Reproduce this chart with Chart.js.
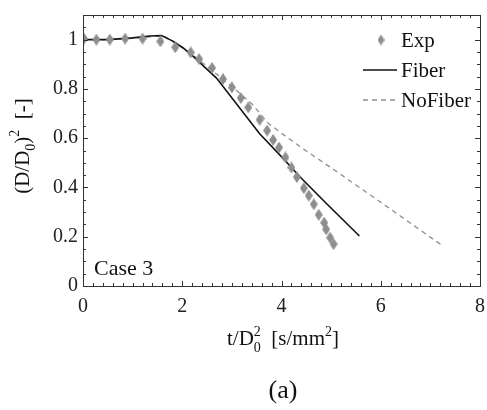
<!DOCTYPE html>
<html>
<head>
<meta charset="utf-8">
<script src="https://cdn.jsdelivr.net/npm/chart.js@4.4.1/dist/chart.umd.min.js"></script>
<style>
html,body{margin:0;padding:0;background:#fff;}
#wrap{width:487px;height:410px;position:relative;}
</style>
</head>
<body>
<div id="wrap"><canvas id="c" width="487" height="410"></canvas></div>
<script>
const expX = [0.02,0.27,0.54,0.85,1.2,1.56,1.86,2.17,2.34,2.6,2.82,3.0,3.18,3.33,3.56,3.71,3.83,3.95,4.08,4.2,4.31,4.45,4.55,4.65,4.75,4.86,4.9,4.98,5.05];
const expY = [1.004,1.0,1.0,1.004,1.004,0.993,0.969,0.948,0.921,0.885,0.84,0.806,0.763,0.725,0.675,0.631,0.593,0.562,0.522,0.481,0.442,0.397,0.367,0.332,0.289,0.257,0.23,0.196,0.17];
const fiberX = [0,0.5,1.0,1.35,1.58,1.82,2.02,2.22,2.69,3.56,4.06,4.25,4.43,4.9,5.57];
const fiberY = [1.0,1.0,1.007,1.015,1.017,0.993,0.966,0.932,0.844,0.618,0.512,0.47,0.431,0.336,0.203];
const noFiberX = [0,0.5,1.0,1.5,1.65,1.9,2.2,2.6,3.0,3.4,3.73,4.0,4.5,5.0,6.0,7.22];
const noFiberY = [1.0,1.0,1.005,1.014,1.012,0.98,0.94,0.875,0.81,0.74,0.661,0.62,0.548,0.48,0.34,0.167];
const xTicks = [0,2,4,6,8];
const yTicks = [0,0.2,0.4,0.6,0.8,1];
const legendLabels = ["Exp","Fiber","NoFiber"];
const caseLabel = "Case 3";
const panelLabel = "(a)";

const SERIF = "'Liberation Serif', 'DejaVu Serif', serif";
const GRAY = '#8e8e8e';

function diamond(w,h,color){
  const c = document.createElement('canvas');
  c.width = w; c.height = h;
  const g = c.getContext('2d');
  g.fillStyle = color;
  g.beginPath();
  g.moveTo(w/2,0); g.lineTo(w,h/2); g.lineTo(w/2,h); g.lineTo(0,h/2); g.closePath();
  g.fill();
  return c;
}
const marker = diamond(8,12,GRAY);
const legendMarker = diamond(7,11,GRAY);

const pts = (xs,ys)=>xs.map((x,i)=>({x:x,y:ys[i]}));

const decorPlugin = {
  id:'decor',
  afterDraw(chart){
    const ctx = chart.ctx;
    const a = chart.chartArea;
    const xs = chart.scales.x, ys = chart.scales.y;
    ctx.save();
    ctx.strokeStyle = '#333';
    ctx.lineWidth = 1;
    ctx.strokeRect(Math.round(a.left)+0.5, Math.round(a.top)+0.5, Math.round(a.right-a.left), Math.round(a.bottom-a.top));
    ctx.beginPath();
    for(let v=0; v<=8.0001; v+=0.2){
      const px = Math.round(xs.getPixelForValue(v))+0.5;
      const major = Math.abs(v/2 - Math.round(v/2))<1e-6;
      const L = major?5:3;
      ctx.moveTo(px,a.bottom); ctx.lineTo(px,a.bottom-L);
      ctx.moveTo(px,a.top); ctx.lineTo(px,a.top+L);
    }
    for(let v=0; v<=1.1001; v+=0.05){
      const py = Math.round(ys.getPixelForValue(v))+0.5;
      const major = Math.abs(v/0.2 - Math.round(v/0.2))<1e-6;
      const L = major?5:3;
      ctx.moveTo(a.left,py); ctx.lineTo(a.left+L,py);
      ctx.moveTo(a.right,py); ctx.lineTo(a.right-L,py);
    }
    ctx.stroke();

    // legend
    ctx.fillStyle = '#111';
    ctx.font = '21px ' + SERIF;
    ctx.textBaseline = 'middle';
    ctx.textAlign = 'left';
    const lx0 = 363, lx1 = 397, tx = 401;
    const ly = [40,70,100];
    ctx.drawImage(legendMarker, 381-3.5, ly[0]-5.5);
    ctx.fillText(legendLabels[0], tx, ly[0]+1);
    ctx.strokeStyle = '#111'; ctx.lineWidth = 1.6; ctx.setLineDash([]);
    ctx.beginPath(); ctx.moveTo(lx0,ly[1]); ctx.lineTo(lx1,ly[1]); ctx.stroke();
    ctx.fillText(legendLabels[1], tx, ly[1]+1);
    ctx.strokeStyle = GRAY; ctx.lineWidth = 1.3; ctx.setLineDash([5,4]);
    ctx.beginPath(); ctx.moveTo(lx0,ly[2]); ctx.lineTo(lx1,ly[2]); ctx.stroke();
    ctx.setLineDash([]);
    ctx.fillText(legendLabels[2], tx, ly[2]+1);

    // case label
    ctx.font = '22px ' + SERIF;
    ctx.textBaseline = 'alphabetic';
    ctx.fillText(caseLabel, 94, 275);

    // x title
    const big = '21px ' + SERIF, small = '14px ' + SERIF;
    const parts = [
      {t:'t/D', f:big, dy:0},
      {t:'2', f:small, dy:-9, stack:'0'},
      {t:'  [s/mm', f:big, dy:0},
      {t:'2', f:small, dy:-9},
      {t:']', f:big, dy:0}
    ];
    function measure(p){ ctx.font = p.f; return ctx.measureText(p.t).width; }
    let total = 0; parts.forEach(p=>{ total += measure(p); });
    let x = 283 - total/2; const base = 345;
    ctx.fillStyle = '#111';
    parts.forEach(p=>{
      ctx.font = p.f;
      ctx.fillText(p.t, x, base + p.dy);
      if(p.stack){ ctx.fillText(p.stack, x, base + 7); }
      x += ctx.measureText(p.t).width;
    });

    // panel label
    ctx.font = '26px ' + SERIF;
    ctx.textAlign = 'center';
    ctx.fillText(panelLabel, 283, 398);

    // y title
    ctx.save();
    ctx.translate(29, 146);
    ctx.rotate(-Math.PI/2);
    ctx.textAlign = 'left';
    const yparts = [
      {t:'(D/D', f:big, dy:0},
      {t:'0', f:small, dy:6},
      {t:')', f:big, dy:0},
      {t:'2', f:small, dy:-10},
      {t:'  [-]', f:big, dy:0}
    ];
    let tot2 = 0; yparts.forEach(p=>{ tot2 += measure(p); });
    let yx = -tot2/2;
    yparts.forEach(p=>{
      ctx.font = p.f;
      ctx.fillText(p.t, yx, p.dy);
      yx += ctx.measureText(p.t).width;
    });
    ctx.restore();
    ctx.restore();
  }
};

new Chart(document.getElementById('c'), {
  type:'scatter',
  data:{
    datasets:[
      {label:'NoFiber', data:pts(noFiberX,noFiberY), showLine:true, borderColor:GRAY, borderWidth:1.3, borderDash:[5,4], pointRadius:0, fill:false, order:3},
      {label:'Fiber', data:pts(fiberX,fiberY), showLine:true, borderColor:'#111', borderWidth:1.6, pointRadius:0, fill:false, order:2},
      {label:'Exp', data:pts(expX,expY), showLine:false, pointStyle:marker, pointRadius:6, backgroundColor:GRAY, borderColor:GRAY, order:1}
    ]
  },
  options:{
    responsive:false,
    animation:false,
    devicePixelRatio:1,
    layout:{padding:{left:0,right:7,top:15,bottom:0}},
    plugins:{legend:{display:false}, tooltip:{enabled:false}},
    scales:{
      x:{
        type:'linear', min:0, max:8,
        grid:{display:false, drawTicks:false},
        border:{display:false},
        afterBuildTicks(s){ s.ticks = xTicks.map(v=>({value:v})); },
        afterFit(s){ s.height = 124; s.paddingLeft = 0; s.paddingRight = 0; },
        ticks:{font:{family:SERIF,size:20}, color:'#222', padding:9, maxRotation:0}
      },
      y:{
        type:'linear', min:0, max:1.1,
        grid:{display:false, drawTicks:false},
        border:{display:false},
        afterBuildTicks(s){ s.ticks = yTicks.map(v=>({value:v})); },
        afterFit(s){ s.width = 83; s.paddingTop = 0; s.paddingBottom = 0; },
        ticks:{font:{family:SERIF,size:20}, color:'#222', padding:5, callback:(v)=>String(v)}
      }
    }
  },
  plugins:[decorPlugin]
});
</script>
</body>
</html>
